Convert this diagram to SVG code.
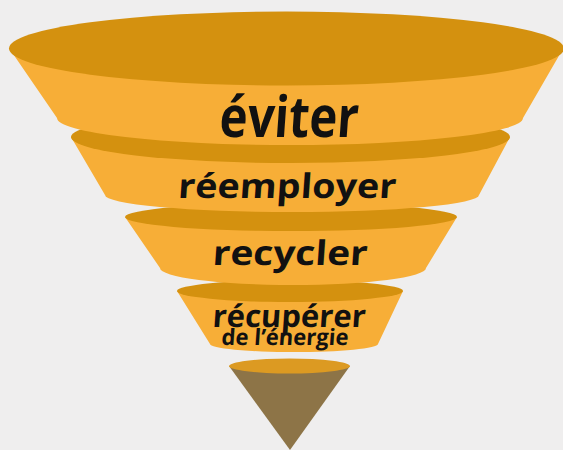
<svg xmlns="http://www.w3.org/2000/svg" width="563" height="450" viewBox="0 0 563 450">
<style>
.top{fill:#d4910f}
.band{fill:#f7ae37}
.lbl{font-family:"Open Sans","Liberation Sans",sans-serif;font-weight:700;fill:#111;text-anchor:middle}
</style>
<rect width="563" height="450" fill="#efeeee"/>
<g id="tier5">
<polygon points="229,366 350,366 290,450" fill="#8d7447"/>
<ellipse cx="289.5" cy="366" rx="60.5" ry="7.5" fill="#dc9a22"/>
</g>
<g id="tier4">
<path class="band" d="M177,291 L210,344 A84,8 0 0 0 378,344 L403,291 Z"/>
<ellipse class="top" cx="290" cy="291" rx="113" ry="11"/>
<text class="lbl" transform="translate(288.5,326.5) skewX(-4)" font-size="31" textLength="153" lengthAdjust="spacingAndGlyphs">récupérer</text>
<text class="lbl" transform="translate(284.5,345) skewX(-4)" font-size="22.5" textLength="127" lengthAdjust="spacingAndGlyphs">de l’énergie</text>
</g>
<g id="tier3">
<path class="band" d="M125,217 L160,268 A133,17 0 0 0 426,268 L457,217 Z"/>
<ellipse class="top" cx="291" cy="217" rx="166" ry="14"/>
<text class="lbl" transform="translate(289.5,264.5) skewX(-4)" font-size="34" textLength="155" lengthAdjust="spacingAndGlyphs">recycler</text>
</g>
<g id="tier2">
<path class="band" d="M71,137 L105,195 A187,17 0 0 0 479,195 L510,137 Z"/>
<ellipse class="top" cx="290.5" cy="137" rx="219.5" ry="26"/>
<text class="lbl" transform="translate(286.5,198) skewX(-4)" font-size="34" textLength="218" lengthAdjust="spacingAndGlyphs">réemployer</text>
</g>
<g id="tier1">
<path class="band" d="M9,48 L57,118 A233,27 0 0 0 523,118 L564,47 Z"/>
<ellipse class="top" cx="286.5" cy="48.5" rx="277.5" ry="37"/>
<text class="lbl" transform="translate(288,137) skewX(-4)" font-size="57" textLength="139" lengthAdjust="spacingAndGlyphs">éviter</text>
</g>
<g id="connectors"/>
</svg>
